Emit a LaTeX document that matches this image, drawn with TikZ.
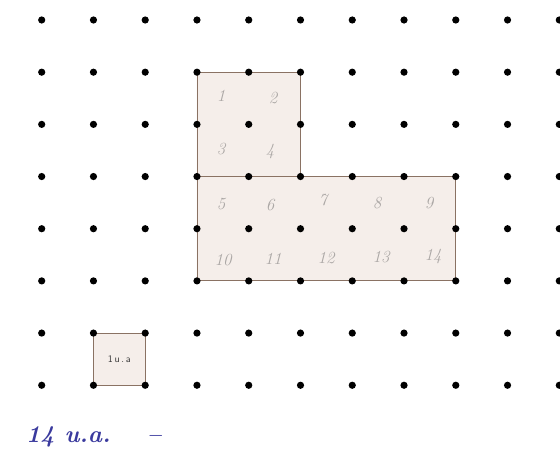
\documentclass[tikz,border=0pt]{standalone}
\usepackage{fontspec}
\usetikzlibrary{calc}
\begin{document}
\begin{tikzpicture}[x=1pt,y=-1pt,
  dotstyle/.style={fill=black,draw=none},
  shapefill/.style={fill=shapebg,draw=edgecol,line width=0.8pt,line join=miter},
  cnt/.style={text=numgrey,font=\itshape\fontsize{17}{17}\selectfont,inner sep=0pt},
  unitlbl/.style={text=black!80,font=\sffamily\fontsize{10}{10}\selectfont,inner sep=0pt},
  handlbl/.style={text=inkblue,font=\bfseries\itshape\fontsize{24}{24}\selectfont,inner sep=0pt,anchor=west}]
\definecolor{shapebg}{HTML}{F5EEEA}
\definecolor{edgecol}{HTML}{8A7263}
\definecolor{numgrey}{HTML}{ABA7A5}
\definecolor{inkblue}{HTML}{3A3A9E}
\useasboundingbox (0,0) rectangle (560,454);
\fill[white] (0,0) rectangle (560,454);
% grid coordinates
\foreach \i in {0,...,10}{
  \foreach \j in {0,...,7}{
    \pgfmathsetmacro{\xx}{41.7+51.76*\i}
    \pgfmathsetmacro{\yy}{20+52.18*\j}
    \coordinate (p-\i-\j) at (\xx,\yy);
  }
}
% L-shaped figure
\filldraw[shapefill] (p-3-1) -- (p-5-1) -- (p-5-3) -- (p-8-3) -- (p-8-5) -- (p-3-5) -- cycle;
\draw[edgecol,line width=0.8pt] (p-3-3) -- (p-5-3);
% unit square
\filldraw[shapefill] (p-1-6) -- (p-2-6) -- (p-2-7) -- (p-1-7) -- cycle;
\node[unitlbl] (ua) at ($(p-1-6)!0.5!(p-2-7)$) {1\,u\,.\,a};
% dots
\foreach \i in {0,...,10}{
  \foreach \j in {0,...,7}{
    \fill[dotstyle] (p-\i-\j) circle (3.6);
  }
}
% counting labels
\node[cnt] (n1) at (221,96) {1};
\node[cnt] (n2) at (273,98) {2};
\node[cnt] (n3) at (221,149) {3};
\node[cnt] (n4) at (270,151) {4};
\node[cnt] (n5) at (221,204) {5};
\node[cnt] (n6) at (270,205) {6};
\node[cnt] (n7) at (323,200) {7};
\node[cnt] (n8) at (377,203) {8};
\node[cnt] (n9) at (429,203) {9};
\node[cnt] (n10) at (223,260) {10};
\node[cnt] (n11) at (273,259) {11};
\node[cnt] (n12) at (326,258) {12};
\node[cnt] (n13) at (381,257) {13};
\node[cnt] (n14) at (433,256) {14};
% handwritten answer
\node[handlbl] (ans) at (26,437) {14 u.a. ~ --};
\end{tikzpicture}
\end{document}
